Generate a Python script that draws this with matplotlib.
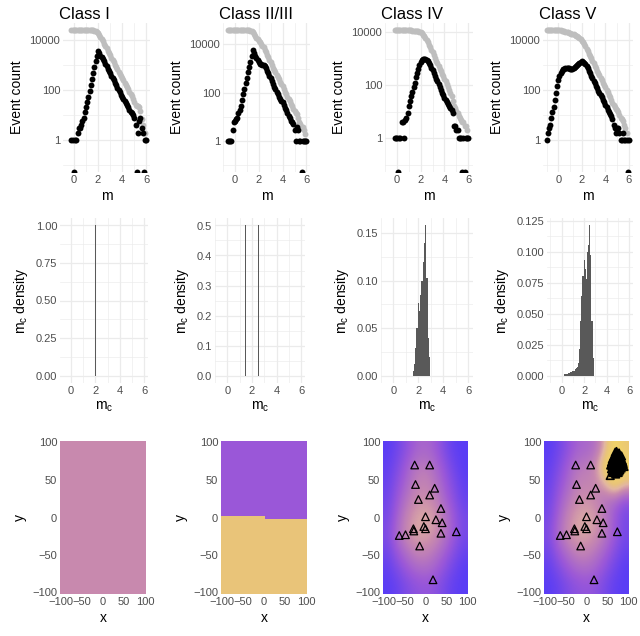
import numpy as np
import matplotlib
matplotlib.use("Agg")
import matplotlib.pyplot as plt
from matplotlib.colors import LinearSegmentedColormap, Normalize
from matplotlib.ticker import FixedLocator, NullFormatter

plt.rcParams["font.family"] = ["Liberation Sans", "DejaVu Sans"]

class_names = ["Class I", "Class II/III", "Class IV", "Class V"]

# magnitude bins of the frequency-magnitude distributions, -1.0 ... 6.0
m_bins = np.round(np.linspace(-1.0, 6.0, 71), 1)

# events per bin (None = bin not present, 0 = empty bin)
N = None
counts_class1 = [N, N, N, N, N, N, N, N, 1, 1,
                 0, 1, 1, 2, 3, 3, 4, 6, 8, 13,
                 22, 35, 56, 95, 165, 290, 500, 850, 1450, 2300,
                 3700, 3000, 2450, 2100, 1750, 1450, 1150, 920, 750, 600,
                 490, 390, 310, 250, 205, 166, 130, 105, 85, 68,
                 56, 46, 38, 31, 26, 22, 17, 14, 12, 10,
                 8, 4, 0, 2, 6, 8, 3, 2, 0, 1,
                 1]
counts_class23 = [N, N, N, N, 1, 1, 1, 1, 3, 6,
                  7, 8, 9, 14, 20, 29, 50, 90, 150, 260,
                  420, 700, 1150, 1900, 3200, 5600, 4300, 3400, 2700, 2200,
                  1800, 1600, 1500, 1450, 1400, 1300, 1050, 820, 640, 500,
                  390, 300, 230, 180, 140, 110, 88, 70, 56, 46,
                  40, 30, 24, 19, 15, 11, 9, 7, 6, 5,
                  3, 1, 4, 3, 1, 1, 0, 1, 1, 1,
                  1]
counts_class4 = [N, N, N, N, N, N, N, N, 1, 1,
                 1, 0, 1, 1, 4, 4, 1, 5, 6, 9,
                 17, 25, 38, 55, 85, 125, 200, 300, 420, 560,
                 780, 900, 1000, 1020, 1000, 930, 830, 680, 560, 450,
                 370, 290, 230, 175, 140, 110, 85, 68, 52, 42,
                 34, 28, 24, 20, 17, 14, 12, 9, 3, 3,
                 2, 2, 1, 1, 1, 0, 1, 0, 1, 1,
                 1]
counts_class5 = [1, 2, 3, 4, 8, 13, 22, 40, 80, 150,
                 250, 380, 500, 600, 680, 740, 780, 790, 770, 750,
                 740, 730, 730, 760, 820, 900, 1000, 1150, 1280, 1400,
                 1450, 1400, 1280, 1100, 900, 750, 600, 480, 380, 300,
                 240, 190, 150, 120, 95, 78, 64, 52, 42, 33,
                 26, 21, 17, 14, 11, 9, 7, 4, 3, 2,
                 3, 3, 2, 1, 1, 2, 1, 1, 1, 0,
                 1]
fmd_counts = [counts_class1, counts_class23, counts_class4, counts_class5]

# share of the grid cells per completeness magnitude m_c
mc_bins_class1 = [2.0]
mc_share_class1 = [1.0]
mc_bins_class23 = [1.5, 2.5]
mc_share_class23 = [0.5, 0.5]
mc_bins_class4 = [1.6, 1.7, 1.8, 1.9, 2.0, 2.1, 2.2, 2.3, 2.4, 2.5, 2.6, 2.7, 2.8, 2.9]
mc_share_class4 = [0.005, 0.012, 0.029, 0.05, 0.076, 0.068, 0.085, 0.1, 0.12,
                   0.14, 0.158, 0.103, 0.04, 0.019]
mc_bins_class5 = [0.3, 0.4, 0.5, 0.6, 0.7, 0.8, 0.9, 1.0, 1.1, 1.2, 1.3, 1.4, 1.5,
                  1.6, 1.7, 1.8, 1.9, 2.0, 2.1, 2.2, 2.3, 2.4, 2.5, 2.6, 2.7, 2.8]
mc_share_class5 = [0.001, 0.001, 0.001, 0.002, 0.002, 0.003, 0.003, 0.004, 0.004,
                   0.005, 0.006, 0.007, 0.01, 0.021, 0.044, 0.064, 0.08, 0.093,
                   0.086, 0.078, 0.1, 0.105, 0.121, 0.097, 0.044, 0.014]
mc_hist = [(mc_bins_class1, mc_share_class1), (mc_bins_class23, mc_share_class23),
           (mc_bins_class4, mc_share_class4), (mc_bins_class5, mc_share_class5)]
mc_yticks = [[0, 0.25, 0.5, 0.75, 1.0], [0, 0.1, 0.2, 0.3, 0.4, 0.5],
             [0, 0.05, 0.10, 0.15], [0, 0.025, 0.05, 0.075, 0.1, 0.125]]
mc_ytick_fmt = ["{:.2f}", "{:.1f}", "{:.2f}", "{:.3f}"]

# m_c maps
mc_class1 = 2.0
mc_class23_top, mc_class23_bottom = 2.5, 1.5
class23_step_x, class23_edge_left, class23_edge_right = 2, 0, -4
# rows from y = -100 (first) to y = 100 (last), columns x = -100 ... 100 by 25
mc_grid_class4 = [
    [2.95, 2.85, 2.70, 2.60, 2.55, 2.60, 2.75, 2.90, 2.95],
    [2.90, 2.70, 2.50, 2.35, 2.30, 2.40, 2.60, 2.80, 2.95],
    [2.80, 2.50, 2.25, 2.05, 2.05, 2.20, 2.40, 2.65, 2.85],
    [2.70, 2.30, 2.00, 1.85, 1.85, 1.95, 2.20, 2.50, 2.75],
    [2.75, 2.40, 2.05, 1.85, 1.80, 1.90, 2.15, 2.50, 2.75],
    [2.80, 2.50, 2.20, 2.00, 1.95, 2.05, 2.35, 2.60, 2.85],
    [2.85, 2.60, 2.35, 2.10, 2.05, 2.20, 2.45, 2.70, 2.90],
    [2.90, 2.70, 2.45, 2.20, 2.15, 2.30, 2.55, 2.80, 2.95],
    [2.95, 2.80, 2.60, 2.40, 2.35, 2.45, 2.70, 2.90, 2.95],
]
mc_grid_class5 = [
    [2.95, 2.85, 2.70, 2.60, 2.55, 2.60, 2.75, 2.90, 2.95],
    [2.90, 2.70, 2.50, 2.35, 2.30, 2.40, 2.60, 2.80, 2.95],
    [2.80, 2.50, 2.25, 2.05, 2.05, 2.20, 2.40, 2.65, 2.85],
    [2.70, 2.30, 2.00, 1.85, 1.85, 1.95, 2.20, 2.50, 2.75],
    [2.75, 2.40, 2.05, 1.85, 1.80, 1.90, 2.15, 2.50, 2.75],
    [2.80, 2.50, 2.20, 2.00, 1.95, 2.05, 2.25, 2.35, 2.60],
    [2.85, 2.60, 2.35, 2.10, 2.05, 2.05, 1.80, 1.30, 1.70],
    [2.90, 2.70, 2.45, 2.20, 2.15, 2.00, 1.20, 0.30, 1.00],
    [2.95, 2.80, 2.60, 2.40, 2.35, 2.25, 1.80, 0.90, 1.40],
]

# seismic stations (classes IV and V)
station_x = [-26, 10, -24, 22, 10, -17, 37, 0, 25, 40, -4, 0, -29, -28, -63, -48,
             37, 74, -14, 18]
station_y = [70, 70, 44, 39, 30, 24, 12, 1, -3, -7, -12, -15, -15, -18, -24, -23,
             -21, -19, -38, -83]
# dense cluster of triangles in class V
cluster_x = [62, 66, 70, 74, 78, 82, 86, 88, 85, 80, 76, 70, 64, 60, 58, 60, 66,
             70, 74, 78, 72, 68, 80, 84, 76, 64, 57, 68, 74, 82, 90, 66, 72, 69, 75,
             60, 63, 67, 71, 75, 79, 83, 87, 86, 83, 78, 73, 67, 62, 65, 69, 73,
             77, 81, 79, 75, 71, 67, 72, 84, 78, 70, 62]
cluster_y = [78, 82, 84, 85, 83, 80, 76, 72, 68, 64, 60, 58, 60, 65, 70, 74, 72,
             76, 72, 70, 66, 68, 75, 72, 78, 66, 56, 62, 64, 68, 68, 76, 88, 87, 80,
             70, 74, 79, 81, 82, 79, 77, 74, 70, 66, 62, 61, 63, 68, 70, 73, 75,
             73, 72, 67, 68, 70, 66, 79, 82, 86, 64, 62]

# colour scale for m_c
mc_colours = [(0.3, "#F7EA2E"), (1.0, "#F2D466"), (1.5, "#E9C47A"), (1.75, "#E2B6A2"),
              (2.0, "#C98AAE"), (2.5, "#9B58D8"), (2.95, "#5A3DF5")]
mc_lo, mc_hi = mc_colours[0][0], mc_colours[-1][0]
mc_cmap = LinearSegmentedColormap.from_list(
    "mc", [((v - mc_lo) / (mc_hi - mc_lo), c) for v, c in mc_colours])
mc_norm = Normalize(mc_lo, mc_hi)

# layout (pixels of the 640 x 636 figure)
W, H = 640, 636
row_top = [(23, 172), (218, 383), (441, 594)]
row_cols = [
    [(63, 150), (223, 310), (385, 473), (543, 633)],
    [(60, 148), (215, 305), (381, 473), (547, 633)],
    [(60, 146), (221, 307), (383, 468), (544, 629)],
]
m_xlims = [(-0.9, 6.3), (-1.0, 6.3), (-1.0, 6.4), (-1.3, 6.35)]

grey_txt = "#4D4D4D"
grid_col = "#EBEBEB"

fig = plt.figure(figsize=(W / 100, H / 100), dpi=100)


def add_panel(row, col):
    x0, x1 = row_cols[row][col]
    y0, y1 = row_top[row]
    return fig.add_axes([x0 / W, 1 - y1 / H, (x1 - x0) / W, (y1 - y0) / H])


def style(ax):
    for s in ax.spines.values():
        s.set_visible(False)
    ax.tick_params(which="both", length=0, labelsize=8, labelcolor=grey_txt, pad=2)
    ax.grid(which="major", color=grid_col, linewidth=0.9)
    ax.grid(which="minor", color=grid_col, linewidth=0.45)
    ax.set_axisbelow(True)


def fmd_panel(ax, counts, xlim):
    """Event count per bin (black) and cumulative count (grey) on a log axis."""
    c = np.array([np.nan if v is None else v for v in counts], dtype=float)
    valid = ~np.isnan(c)
    cum = np.where(valid, np.nancumsum(c[::-1])[::-1], np.nan)
    lo = 10 ** -1.27
    hi = 10 ** (np.log10(np.nanmax(cum)) + 0.28)
    grey_y = np.where(cum > 0, cum, lo)
    black_y = np.where(c > 0, c, lo)
    ax.scatter(m_bins[valid], grey_y[valid], s=18, color="#BEBEBE", linewidths=0, zorder=2)
    ax.scatter(m_bins[valid], black_y[valid], s=18, color="black", linewidths=0, zorder=3)
    ax.set_yscale("log")
    ax.set_ylim(lo, hi)
    ax.set_xlim(*xlim)
    ax.yaxis.set_major_locator(FixedLocator([1, 100, 10000]))
    ax.set_yticklabels(["1", "100", "10000"])
    ax.yaxis.set_minor_locator(FixedLocator([0.1, 10, 1000, 100000]))
    ax.yaxis.set_minor_formatter(NullFormatter())
    ax.set_xticks([0, 2, 4, 6])
    ax.xaxis.set_minor_locator(FixedLocator([-1, 1, 3, 5]))
    style(ax)
    ax.set_xlabel("m", fontsize=10, labelpad=3)
    ax.set_ylabel("Event count", fontsize=10, labelpad=4)


def mc_panel(ax, bins, share, yticks, fmt, xlim):
    ax.bar(bins, share, width=0.1, color="#595959", linewidth=0, zorder=2)
    top = max(share)
    ax.set_ylim(-0.05 * top, 1.05 * top)
    ax.set_xlim(*xlim)
    ax.set_yticks(yticks)
    ax.set_yticklabels([fmt.format(t) for t in yticks])
    minors = [(a + b) / 2 for a, b in zip(yticks[:-1], yticks[1:])]
    ax.yaxis.set_minor_locator(FixedLocator(minors))
    ax.set_xticks([0, 2, 4, 6])
    ax.xaxis.set_minor_locator(FixedLocator([-1, 1, 3, 5]))
    style(ax)
    ax.set_xlabel("m$_\\mathregular{c}$", fontsize=10, labelpad=3)
    ax.set_ylabel("m$_\\mathregular{c}$ density", fontsize=10, labelpad=4)


def map_panel(ax, field, interp, stations=False, cluster=False):
    ax.imshow(field, origin="lower", extent=(-102, 102, -102, 102), aspect="auto",
              cmap=mc_cmap, norm=mc_norm, interpolation=interp, zorder=1)
    if stations:
        ax.scatter(station_x, station_y, marker="^", s=30, facecolors="none",
                   edgecolors="black", linewidths=0.9, zorder=3)
    if cluster:
        ax.scatter(cluster_x, cluster_y, marker="^", s=30, facecolors="none",
                   edgecolors="black", linewidths=1.2, zorder=3)
    ax.set_xlim(-102, 102)
    ax.set_ylim(-102, 102)
    ticks = [-100, -50, 0, 50, 100]
    ax.set_xticks(ticks)
    ax.set_yticks(ticks)
    ax.xaxis.set_minor_locator(FixedLocator([-75, -25, 25, 75]))
    ax.yaxis.set_minor_locator(FixedLocator([-75, -25, 25, 75]))
    style(ax)
    ax.set_xlabel("x", fontsize=10, labelpad=3)
    ax.set_ylabel("y", fontsize=10, labelpad=4)


for col in range(4):
    ax = add_panel(0, col)
    fmd_panel(ax, fmd_counts[col], m_xlims[col])
    x0 = row_cols[0][col][0]
    fig.text((x0 - 4) / W, 1 - 19 / H, class_names[col], fontsize=12, ha="left",
             va="baseline")

    bins, share = mc_hist[col]
    ax = add_panel(1, col)
    mc_panel(ax, bins, share, mc_yticks[col], mc_ytick_fmt[col], m_xlims[col])

# maps
centres = np.arange(-100, 101, 4)
gx, gy = np.meshgrid(centres, centres)
edge = np.where(gx < class23_step_x, class23_edge_left, class23_edge_right)
field23 = np.where(gy > edge, mc_class23_top, mc_class23_bottom)

map_panel(add_panel(2, 0), np.full((2, 2), mc_class1), "nearest")
map_panel(add_panel(2, 1), field23, "nearest")
map_panel(add_panel(2, 2), np.array(mc_grid_class4), "bicubic", stations=True)
map_panel(add_panel(2, 3), np.array(mc_grid_class5), "bicubic", stations=True,
          cluster=True)

fig.savefig("out.png", dpi=100)
